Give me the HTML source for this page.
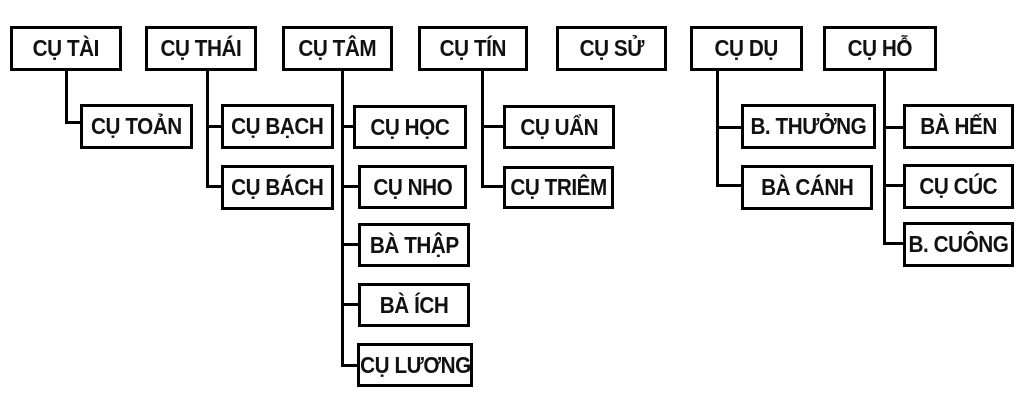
<!DOCTYPE html>
<html><head><meta charset="utf-8"><style>
html,body{margin:0;padding:0;background:#fff;width:1018px;height:400px;overflow:hidden}
.b{position:absolute;box-sizing:border-box;border:3px solid #000;display:flex;align-items:center;justify-content:center;font-family:"Liberation Sans",sans-serif;font-weight:bold;font-size:23px;letter-spacing:-0.5px;color:#111;white-space:nowrap}
.b span{display:inline-block;transform:scaleX(0.9)}
.l{position:absolute;background:#000}
</style></head><body>
<div class="b" style="left:10px;top:26px;width:112px;height:45px"><span>CỤ TÀI</span></div>
<div class="b" style="left:145px;top:26px;width:112px;height:45px"><span>CỤ THÁI</span></div>
<div class="b" style="left:282px;top:26px;width:111px;height:45px"><span>CỤ TÂM</span></div>
<div class="b" style="left:418px;top:26px;width:110px;height:45px"><span>CỤ TÍN</span></div>
<div class="b" style="left:556px;top:26px;width:111px;height:45px"><span>CỤ SỬ</span></div>
<div class="b" style="left:690px;top:26px;width:113px;height:45px"><span>CỤ DỤ</span></div>
<div class="b" style="left:823px;top:26px;width:114px;height:45px"><span>CỤ HỖ</span></div>

<div class="l" style="left:65px;top:71px;width:3px;height:52px"></div>
<div class="l" style="left:65px;top:121px;width:16px;height:3px"></div>

<div class="l" style="left:206px;top:71px;width:3px;height:117px"></div>
<div class="l" style="left:206px;top:125px;width:16px;height:3px"></div>
<div class="l" style="left:206px;top:185px;width:16px;height:3px"></div>

<div class="l" style="left:341px;top:71px;width:3px;height:296px"></div>
<div class="l" style="left:341px;top:125px;width:13px;height:3px"></div>
<div class="l" style="left:341px;top:185px;width:18px;height:3px"></div>
<div class="l" style="left:341px;top:243px;width:18px;height:3px"></div>
<div class="l" style="left:341px;top:303px;width:18px;height:3px"></div>
<div class="l" style="left:341px;top:364px;width:18px;height:3px"></div>

<div class="l" style="left:481px;top:71px;width:3px;height:117px"></div>
<div class="l" style="left:481px;top:125px;width:23px;height:3px"></div>
<div class="l" style="left:481px;top:185px;width:23px;height:3px"></div>

<div class="l" style="left:716px;top:71px;width:3px;height:116px"></div>
<div class="l" style="left:716px;top:126px;width:26px;height:3px"></div>
<div class="l" style="left:716px;top:184px;width:26px;height:3px"></div>

<div class="l" style="left:883px;top:71px;width:3px;height:174px"></div>
<div class="l" style="left:883px;top:126px;width:21px;height:3px"></div>
<div class="l" style="left:883px;top:184px;width:21px;height:3px"></div>
<div class="l" style="left:883px;top:242px;width:21px;height:3px"></div>

<div class="b" style="left:80px;top:104px;width:113px;height:45px"><span>CỤ TOẢN</span></div>
<div class="b" style="left:221px;top:104px;width:113px;height:45px"><span>CỤ BẠCH</span></div>
<div class="b" style="left:221px;top:165px;width:113px;height:45px"><span>CỤ BÁCH</span></div>
<div class="b" style="left:353px;top:105px;width:114px;height:44px"><span>CỤ HỌC</span></div>
<div class="b" style="left:358px;top:165px;width:109px;height:44px"><span>CỤ NHO</span></div>
<div class="b" style="left:358px;top:223px;width:112px;height:44px"><span>BÀ THẬP</span></div>
<div class="b" style="left:358px;top:283px;width:112px;height:44px"><span>BÀ ÍCH</span></div>
<div class="b" style="left:357px;top:343px;width:116px;height:44px"><span>CỤ LƯƠNG</span></div>
<div class="b" style="left:503px;top:105px;width:112px;height:44px"><span>CỤ UẨN</span></div>
<div class="b" style="left:503px;top:166px;width:111px;height:43px"><span>CỤ TRIÊM</span></div>
<div class="b" style="left:741px;top:104px;width:135px;height:45px"><span>B. THƯỞNG</span></div>
<div class="b" style="left:741px;top:165px;width:132px;height:45px"><span>BÀ CÁNH</span></div>
<div class="b" style="left:903px;top:104px;width:111px;height:45px"><span>BÀ HẾN</span></div>
<div class="b" style="left:903px;top:164px;width:111px;height:45px"><span>CỤ CÚC</span></div>
<div class="b" style="left:903px;top:222px;width:111px;height:45px"><span>B. CUÔNG</span></div>
</body></html>
